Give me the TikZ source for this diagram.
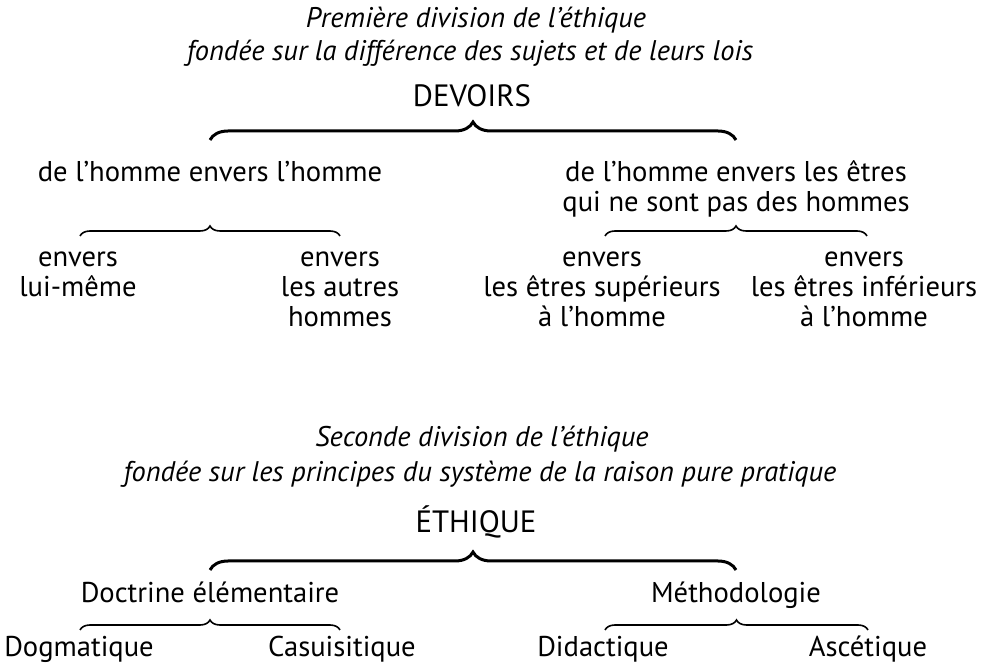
\documentclass[tikz,border=0pt]{standalone}
\usepackage{fontspec}
\setmainfont{PT Sans}
\usetikzlibrary{calc,decorations.pathreplacing}
\tikzset{
  lab/.style={anchor=base,align=center,inner sep=0pt,font=\fontsize{14.3}{15}\selectfont},
  head/.style={lab,font=\fontsize{14.2}{15}\selectfont\itshape},
  top/.style={lab,font=\fontsize{15.4}{16}\selectfont},
  bigbrace/.style={decorate,decoration={brace,amplitude=9pt},line width=1.5pt},
  smallbrace/.style={decorate,decoration={brace,amplitude=5pt},line width=.8pt}
}

\begin{document}
\begin{tikzpicture}[x=.5pt,y=-.5pt]
\useasboundingbox (0,0) rectangle (982,668);
% premiere division
\node[head] (h1a) at (476,28) {Première division de l’éthique};
\node[head] (h1b) at (470,61) {fondée sur la différence des sujets et de leurs lois};
\node[top] (devoirs) at (472,107) {DEVOIRS};
\node[lab] (hom) at (210,182) {de l’homme envers l’homme};
\node[lab] (etres) at (736,212) {de l’homme envers les êtres\\qui ne sont pas des hommes};
\node[lab] (lui) at (78,297) {envers\\lui-même};
\node[lab] (autres) at (340,327) {envers\\les autres\\hommes};
\node[lab] (sup) at (602,327) {envers\\les êtres supérieurs\\à l’homme};
\node[lab] (inf) at (864,327) {envers\\les êtres inférieurs\\à l’homme};
\draw[bigbrace] ($(devoirs.base -| hom)+(0,33)$) -- ($(devoirs.base -| etres)+(0,33)$);
\draw[smallbrace] ($(hom.base -| lui)+(2,54)$) -- ($(hom.base -| autres)+(0,54)$);
\draw[smallbrace] ($(etres.base -| sup)+(3,24)$) -- ($(etres.base -| inf)+(3,24)$);
% seconde division
\node[head] (h2a) at (482,447) {Seconde division de l’éthique};
\node[head] (h2b) at (480,482) {fondée sur les principes du système de la raison pure pratique};
\node[top] (ethique) at (476,533) {ÉTHIQUE};
\node[lab] (doctrine) at (210,603) {Doctrine élémentaire};
\node[lab] (methode) at (736,603) {Méthodologie};
\node[lab] (dogm) at (79,657) {Dogmatique};
\node[lab] (casu) at (342,657) {Casuisitique};
\node[lab] (didac) at (603,657) {Didactique};
\node[lab] (asce) at (868,657) {Ascétique};
\draw[bigbrace] ($(ethique.base -| doctrine)+(0,37)$) -- ($(ethique.base -| methode)+(0,37)$);
\draw[smallbrace] ($(dogm.base)+(1,-27)$) -- ($(casu.base)+(-2,-27)$);
\draw[smallbrace] ($(didac.base)+(2,-27)$) -- ($(asce.base)+(0,-27)$);
\end{tikzpicture}
\end{document}
